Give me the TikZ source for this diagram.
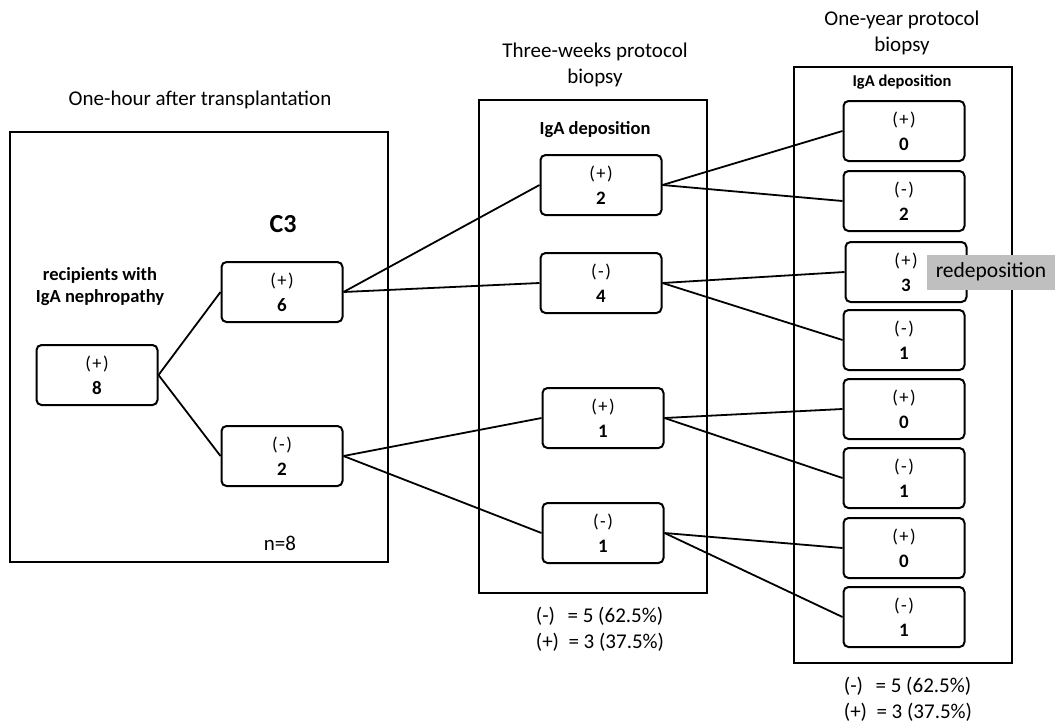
\documentclass[tikz,border=0pt]{standalone}
\usepackage{fontspec}
\setmainfont{Carlito}
\begin{document}
\begin{tikzpicture}[x=1pt,y=-1pt,
  box/.style={draw,line width=2pt,rounded corners=5pt,minimum width=121pt,minimum height=60pt,
    align=center,inner sep=0pt,font=\fontsize{18.5}{25}\selectfont},
  frame/.style={draw,line width=2.5pt,inner sep=0pt},
  conn/.style={line width=1.8pt},
  ttl/.style={font=\fontsize{21}{26.5}\selectfont,align=center},
  lbl/.style={font=\bfseries\fontsize{18.5}{22}\selectfont,align=center},
  stat/.style={font=\fontsize{21}{26}\selectfont,align=left}]
\newcommand\sgn[1]{(\kern1.5pt#1\kern1.5pt)}
\newcommand\nmb[1]{{\bfseries\fontsize{19}{25}\selectfont #1}}
\useasboundingbox (0,0) rectangle (1055,724);
% frames
\node[frame,minimum width=378pt,minimum height=430pt] (f1) at (199,347) {};
\node[frame,minimum width=228pt,minimum height=493pt] (f2) at (593,346.5) {};
\node[frame,minimum width=218pt,minimum height=596pt] (f3) at (903,365) {};
% titles
\node[ttl] (t1) at (200,100) {One-hour after transplantation};
\node[ttl] (t2) at (595,65) {Three-weeks protocol\\biopsy};
\node[ttl] (t3) at (902,33) {One-year protocol\\biopsy};
\node[font=\bfseries\fontsize{26}{30}\selectfont] (c3) at (283,224) {C3};
\node[lbl] (rec) at (100,287) {recipients with\\IgA nephropathy};
\node[lbl] (iga2) at (595,130) {IgA deposition};
\node[font=\bfseries\fontsize{16.5}{20}\selectfont] (iga3) at (902,82) {IgA deposition};
\node[ttl] (n8) at (280,543) {n=8};
% left nodes
\node[box] (a) at (97,375) {\sgn{+}\\\nmb{8}};
\node[box] (b1) at (282,292) {\sgn{+}\\\nmb{6}};
\node[box] (b2) at (282,456) {\sgn{-}\\\nmb{2}};
% middle nodes
\node[box] (m1) at (601,185) {\sgn{+}\\\nmb{2}};
\node[box] (m2) at (601,283) {\sgn{-}\\\nmb{4}};
\node[box] (m3) at (603,418) {\sgn{+}\\\nmb{1}};
\node[box] (m4) at (603,533) {\sgn{-}\\\nmb{1}};
% right nodes
\node[box] (r1) at (904,131) {\sgn{+}\\\nmb{0}};
\node[box] (r2) at (904,201) {\sgn{-}\\\nmb{2}};
\node[box] (r3) at (906,272) {\sgn{+}\\\nmb{3}};
\node[box] (r4) at (904,340) {\sgn{-}\\\nmb{1}};
\node[box] (r5) at (904,409) {\sgn{+}\\\nmb{0}};
\node[box] (r6) at (904,478) {\sgn{-}\\\nmb{1}};
\node[box] (r7) at (904,548) {\sgn{+}\\\nmb{0}};
\node[box] (r8) at (904,617) {\sgn{-}\\\nmb{1}};
\node[fill=black!25,minimum width=128pt,minimum height=35pt,inner sep=0pt,font=\fontsize{21.5}{24}\selectfont] (red) at (991,272) {redeposition};
% connectors
\draw[conn] (a.east) -- (b1.west);
\draw[conn] (a.east) -- (b2.west);
\draw[conn] (b1.east) -- (m1.west);
\draw[conn] (b1.east) -- (m2.west);
\draw[conn] (b2.east) -- (m3.west);
\draw[conn] (b2.east) -- (m4.west);
\draw[conn] (m1.east) -- (r1.west);
\draw[conn] (m1.east) -- (r2.west);
\draw[conn] (m2.east) -- (r3.west);
\draw[conn] (m2.east) -- (r4.west);
\draw[conn] (m3.east) -- (r5.west);
\draw[conn] (m3.east) -- (r6.west);
\draw[conn] (m4.east) -- (r7.west);
\draw[conn] (m4.east) -- (r8.west);
% stats
\node[stat] (s2) at (600,629) {(-)\hspace{0.6em}= 5 (62.5\%)\\(+)\hspace{0.45em}= 3 (37.5\%)};
\node[stat] (s3) at (908,699) {(-)\hspace{0.6em}= 5 (62.5\%)\\(+)\hspace{0.45em}= 3 (37.5\%)};
\end{tikzpicture}
\end{document}
